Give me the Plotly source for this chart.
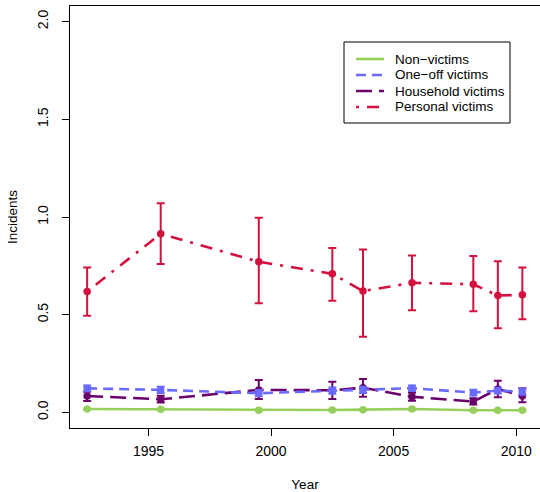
import plotly.graph_objects as go

years = [1992.5, 1995.5, 1999.5, 2002.5, 2003.75, 2005.75, 2008.25, 2009.25, 2010.25]

non_victims = [0.017, 0.016, 0.011, 0.012, 0.014, 0.017, 0.011, 0.011, 0.011]
non_lo = [0.014, 0.013, 0.008, 0.009, 0.011, 0.014, 0.008, 0.008, 0.008]
non_hi = [0.020, 0.019, 0.014, 0.015, 0.017, 0.020, 0.014, 0.014, 0.014]

oneoff = [0.123, 0.115, 0.098, 0.111, 0.115, 0.124, 0.101, 0.111, 0.106]
oneoff_lo = [0.108, 0.099, 0.082, 0.095, 0.099, 0.110, 0.086, 0.096, 0.090]
oneoff_hi = [0.138, 0.131, 0.114, 0.127, 0.131, 0.138, 0.116, 0.126, 0.122]

household = [0.084, 0.067, 0.115, 0.113, 0.126, 0.080, 0.055, 0.120, 0.084]
household_lo = [0.058, 0.050, 0.069, 0.069, 0.080, 0.060, 0.040, 0.077, 0.052]
household_hi = [0.105, 0.085, 0.166, 0.157, 0.171, 0.100, 0.072, 0.162, 0.123]

personal = [0.619, 0.914, 0.771, 0.709, 0.621, 0.663, 0.656, 0.598, 0.602]
personal_lo = [0.495, 0.759, 0.558, 0.571, 0.387, 0.523, 0.518, 0.431, 0.476]
personal_hi = [0.742, 1.071, 0.996, 0.841, 0.834, 0.803, 0.800, 0.774, 0.742]

x_ticks = [1995, 2000, 2005, 2010]
y_ticks = [0.0, 0.5, 1.0, 1.5, 2.0]
y_tick_labels = ["0.0", "0.5", "1.0", "1.5", "2.0"]

series = [
    ("Non\u2212victims", non_victims, non_lo, non_hi, "#97CF5C", "solid"),
    ("Household victims", household, household_lo, household_hi, "#6B006B", "16px,7px"),
    ("One\u2212off victims", oneoff, oneoff_lo, oneoff_hi, "#6A6AFF", "10px,6px"),
    ("Personal victims", personal, personal_lo, personal_hi, "#D4103C", "3px,8px,12px,8px"),
]
legend_order = ["Non\u2212victims", "One\u2212off victims", "Household victims", "Personal victims"]

fig = go.Figure()
for name, vals, lo, hi, col, dash in series:
    fig.add_trace(go.Scatter(
        x=years, y=vals, mode="lines+markers", name=name, showlegend=False,
        line=dict(color=col, width=2.6, dash=dash),
        marker=dict(color=col, size=7.5),
        error_y=dict(type="data", symmetric=False,
                     array=[h - v for h, v in zip(hi, vals)],
                     arrayminus=[v - l for v, l in zip(vals, lo)],
                     color=col, thickness=2, width=4),
    ))

# legend drawn as a box, line samples and text (paper coords of the plot area)
PL, PW, PT, PH = 70, 470, 6, 422   # plot area in pixels
def px(x):
    return (x - PL) / PW
def py(y):
    return 1 - (y - PT) / PH

style = {s[0]: s for s in series}
shapes = [dict(type="rect", xref="paper", yref="paper",
               x0=px(344), x1=px(510), y0=py(123), y1=py(42),
               line=dict(color="black", width=1), fillcolor="white", layer="above")]
annotations = []
row_y = [59, 75, 91, 107]
for name, yy in zip(legend_order, row_y):
    col, dash = style[name][4], style[name][5]
    shapes.append(dict(type="line", xref="paper", yref="paper",
                       x0=px(356), x1=px(384), y0=py(yy), y1=py(yy),
                       line=dict(color=col, width=2.6, dash=dash), layer="above"))
    annotations.append(dict(xref="paper", yref="paper", x=px(393), y=py(yy),
                            text=name, showarrow=False, xanchor="left", yanchor="middle",
                            font=dict(size=13.5, color="black")))

fig.update_layout(
    width=540, height=492,
    margin=dict(l=70, r=0, t=6, b=64),
    paper_bgcolor="white", plot_bgcolor="white",
    font=dict(family="Liberation Sans, Arial, sans-serif", size=14, color="black"),
    showlegend=False,
    shapes=shapes, annotations=annotations,
    xaxis=dict(range=[1991.8, 2010.97], tickvals=x_ticks, ticks="outside", ticklen=7,
               tickcolor="black", showline=True, linecolor="black", linewidth=1,
               mirror=True, showgrid=False, zeroline=False, automargin=False,
               title=dict(text="Year", standoff=24, font=dict(size=13.5)),
               ticklabelstandoff=3),
    yaxis=dict(range=[-0.08, 2.08], tickvals=y_ticks, ticktext=y_tick_labels,
               ticks="outside", ticklen=7, tickcolor="black", tickangle=-90,
               showline=True, linecolor="black", linewidth=1, mirror=False,
               showgrid=False, zeroline=False, automargin=False,
               title=dict(text="Incidents", standoff=14, font=dict(size=13.5)),
               ticklabelstandoff=8),
)

fig.write_html("out.html", config={"displayModeBar": False},
               post_script="document.body.style.margin='0';")
